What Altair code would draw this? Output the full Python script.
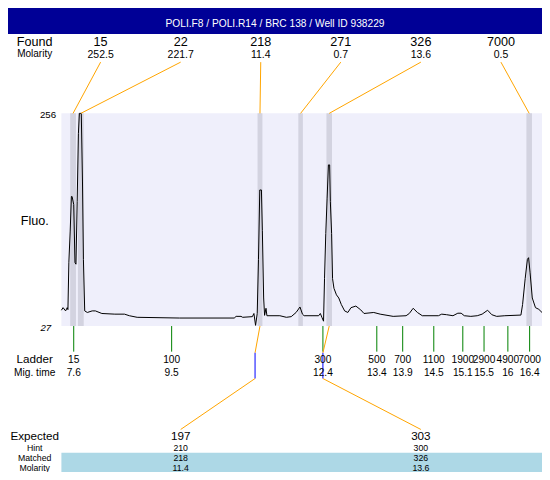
import altair as alt
import pandas as pd

# ---------------- data ----------------
title_text = "POLI.F8 / POLI.R14 / BRC 138 / Well ID 938229"

found_sizes = ["15", "22", "218", "271", "326", "7000"]
found_molarity = ["252.5", "221.7", "11.4", "0.7", "13.6", "0.5"]
peak_start = [7.531, 7.681, 11.148, 11.935, 12.478, 16.338]
peak_end = [7.643, 7.793, 11.242, 12.023, 12.585, 16.445]

ladder_sizes = ["15", "100", "300", "500", "700", "1100", "1900", "2900", "4900", "7000"]
ladder_times = [7.60, 9.49, 12.41, 13.45, 13.95, 14.55, 15.11, 15.52, 15.98, 16.40]
ladder_time_labels = ["7.6", "9.5", "12.4", "13.4", "13.9", "14.5", "15.1", "15.5", "16", "16.4"]

expected_sizes = ["197", "303"]
hint_sizes = ["210", "300"]
matched_sizes = ["218", "326"]
matched_molarity = ["11.4", "13.6"]
hint_times = [11.10, 12.41]
matched_peak_index = [2, 4]

y_min, y_max = 27, 256

trace_time = [
    7.362, 7.394, 7.443, 7.474, 7.488, 7.506, 7.531, 7.555, 7.568, 7.600,
    7.624, 7.643, 7.667, 7.690, 7.709, 7.746, 7.769, 7.787, 7.812, 7.862,
    7.956, 8.018, 8.143, 8.393, 8.580, 8.674, 8.824, 9.643, 10.698, 10.735,
    10.829, 10.861, 11.048, 11.078, 11.110, 11.142, 11.166, 11.191, 11.223, 11.241,
    11.266, 11.284, 11.311, 11.329, 11.579, 11.704, 11.798, 11.892, 11.967, 12.015,
    12.047, 12.328, 12.360, 12.390, 12.422, 12.441, 12.465, 12.491, 12.516, 12.540,
    12.553, 12.578, 12.596, 12.623, 12.671, 12.716, 12.765, 12.829, 12.891, 12.952,
    13.046, 13.140, 13.203, 13.391, 13.515, 13.766, 14.015, 14.077, 14.152, 14.234,
    14.328, 14.639, 14.703, 14.797, 14.920, 15.014, 15.078, 15.139, 15.265, 15.389,
    15.483, 15.589, 15.670, 15.764, 15.921, 16.232, 16.264, 16.314, 16.357, 16.380,
    16.408, 16.451, 16.513, 16.577, 16.639,
]
trace_fluo = [
    44.0, 46.8, 43.3, 46.8, 44.7, 95.7, 128.3, 166.5, 166.5, 157.8,
    95.4, 93.6, 161.3, 234.2, 256.0, 256.0, 182.1, 98.8, 43.3, 41.6,
    43.3, 43.3, 40.5, 39.8, 39.8, 38.1, 36.4, 35.6, 35.6, 37.4,
    37.4, 36.4, 37.1, 40.5, 27.7, 40.5, 98.8, 173.5, 173.5, 130.1,
    57.2, 38.5, 46.1, 38.1, 38.1, 36.4, 37.1, 41.6, 47.5, 39.8,
    38.1, 38.1, 40.5, 36.4, 32.2, 78.0, 126.6, 164.7, 200.5, 200.5,
    161.3, 126.6, 78.0, 67.6, 60.6, 57.2, 50.2, 43.3, 41.6, 46.8,
    48.5, 44.4, 40.5, 41.6, 39.8, 37.4, 38.1, 40.5, 46.1, 41.6,
    38.1, 38.1, 39.8, 39.2, 38.1, 40.8, 40.8, 38.1, 37.4, 38.1,
    39.8, 44.0, 39.2, 37.4, 38.1, 38.8, 50.2, 78.0, 98.8, 100.6,
    85.0, 57.2, 46.8, 45.0, 41.6,
]

# ---------------- layout ----------------
W, H = 534, 464            # whole chart (fits the 550x480 window with 8px margins)
REF_W, REF_H = 550, 480    # layout units
T0, T1 = 6.3312, 16.6388   # time domain across the full width
F0, F1 = -130.18, 369.46   # fluorescence domain across the full height
FS = W / REF_W


def tx(rx):
    return T0 + rx / REF_W * (T1 - T0)


def fy(ry):
    return F1 - ry / REF_H * (F1 - F0)


col_x = [95.4 + i * 82.46 for i in range(6)]
expected_cols = [1, 4]
LEFT_X = 27.5
ROW_FS = 9.0

NAVY = "#000096"
PLOT_BG = "#EFEFFB"
BAND = "#D3D3E0"
LIGHTBLUE = "#ADD8E6"
ORANGE = "#FFA500"
GREEN = "#008000"
BLUE = "#0000FF"

xs = alt.Scale(domain=[T0, T1], nice=False, zero=False)
ys = alt.Scale(domain=[F0, F1], nice=False, zero=False)

# ---------------- tables ----------------
rects = [
    dict(x=tx(0), x2=tx(550), y=fy(0), y2=fy(27), c=NAVY),
    dict(x=tx(55), x2=tx(550), y=y_min, y2=y_max, c=PLOT_BG),
    dict(x=tx(55), x2=tx(550), y=fy(460), y2=fy(480), c=LIGHTBLUE),
]
for s, e in zip(peak_start, peak_end):
    rects.append(dict(x=s, x2=e, y=y_min, y2=y_max, c=BAND))
rect_df = pd.DataFrame(rects)

trace_df = pd.DataFrame({"t": trace_time, "f": trace_fluo})

peak_center = [(s + e) / 2 for s, e in zip(peak_start, peak_end)]
lines = []
for i, pc in enumerate(peak_center):
    lines.append(dict(x=tx(col_x[i]), x2=pc, y=fy(56), y2=y_max, c=ORANGE))
for lt in ladder_times:
    lines.append(dict(x=lt, x2=lt, y=y_min, y2=fy(355.5), c=GREEN))
for k, ht in enumerate(hint_times):
    pc = peak_center[matched_peak_index[k]]
    lines.append(dict(x=pc, x2=ht, y=y_min, y2=fy(356.7), c=ORANGE))
    lines.append(dict(x=ht, x2=ht, y=fy(356.7), y2=fy(383.3), c=BLUE))
    lines.append(dict(x=ht, x2=tx(col_x[expected_cols[k]]), y=fy(383.3), y2=fy(436.0), c=ORANGE))
line_df = pd.DataFrame(lines)

texts = [dict(x=tx(275), y=fy(19.3), text=title_text, fs=10.5, c="white")]
texts += [
    dict(x=tx(LEFT_X), y=fy(39.5), text="Found", fs=13, c="black"),
    dict(x=tx(LEFT_X), y=fy(50.8), text="Molarity", fs=10.3, c="black"),
    dict(x=tx(LEFT_X), y=fy(224), text="Fluo.", fs=13, c="black"),
    dict(x=tx(LEFT_X), y=fy(367.5), text="Ladder", fs=12, c="black"),
    dict(x=tx(LEFT_X), y=fy(380.3), text="Mig. time", fs=10.5, c="black"),
    dict(x=tx(LEFT_X), y=fy(446.8), text="Expected", fs=12, c="black"),
    dict(x=tx(LEFT_X), y=fy(458.6), text="Hint", fs=ROW_FS, c="black"),
    dict(x=tx(LEFT_X), y=fy(468.8), text="Matched", fs=ROW_FS, c="black"),
    dict(x=tx(LEFT_X), y=fy(478.8), text="Molarity", fs=ROW_FS, c="black"),
]
for i in range(6):
    texts.append(dict(x=tx(col_x[i]), y=fy(39.5), text=found_sizes[i], fs=13, c="black"))
    texts.append(dict(x=tx(col_x[i]), y=fy(51.5), text=found_molarity[i], fs=10.8, c="black"))
for lt, ls, ll in zip(ladder_times, ladder_sizes, ladder_time_labels):
    texts.append(dict(x=lt, y=fy(367.2), text=ls, fs=10.5, c="black"))
    texts.append(dict(x=lt, y=fy(380.6), text=ll, fs=10.5, c="black"))
for k in range(2):
    cx = tx(col_x[expected_cols[k]])
    texts.append(dict(x=cx, y=fy(446.8), text=expected_sizes[k], fs=12, c="black"))
    texts.append(dict(x=cx, y=fy(458.6), text=hint_sizes[k], fs=ROW_FS, c="black"))
    texts.append(dict(x=cx, y=fy(468.8), text=matched_sizes[k], fs=ROW_FS, c="black"))
    texts.append(dict(x=cx, y=fy(478.8), text=matched_molarity[k], fs=ROW_FS, c="black"))
text_df = pd.DataFrame(texts)
text_df["fs"] = text_df["fs"] * FS

tick_df = pd.DataFrame([
    dict(x=tx(49.5), y=fy(113.6), text=str(y_max), fs=10 * FS),
])
tick27_df = pd.DataFrame([
    dict(x=tx(44.5), y=fy(334.3), text=str(y_min), fs=10 * FS),
])

FONT = "Liberation Sans"

rect_layer = alt.Chart(rect_df).mark_rect().encode(
    x=alt.X("x:Q", scale=xs, axis=None),
    x2="x2:Q",
    y=alt.Y("y:Q", scale=ys, axis=None),
    y2="y2:Q",
    color=alt.Color("c:N", scale=None),
)

trace_layer = alt.Chart(trace_df).mark_line(color="black", strokeWidth=1).encode(
    x=alt.X("t:Q", scale=xs, axis=None),
    y=alt.Y("f:Q", scale=ys, axis=None),
    order="t:Q",
)

line_layer = alt.Chart(line_df).mark_rule(strokeWidth=1).encode(
    x=alt.X("x:Q", scale=xs, axis=None),
    x2="x2:Q",
    y=alt.Y("y:Q", scale=ys, axis=None),
    y2="y2:Q",
    color=alt.Color("c:N", scale=None),
)

text_layer = alt.Chart(text_df).mark_text(
    align="center", baseline="alphabetic", font=FONT
).encode(
    x=alt.X("x:Q", scale=xs, axis=None),
    y=alt.Y("y:Q", scale=ys, axis=None),
    text="text:N",
    size=alt.Size("fs:Q", scale=None, legend=None),
    color=alt.Color("c:N", scale=None),
)

tick_layer = alt.Chart(tick_df).mark_text(
    align="right", baseline="alphabetic", font=FONT, color="black"
).encode(
    x=alt.X("x:Q", scale=xs, axis=None),
    y=alt.Y("y:Q", scale=ys, axis=None),
    text="text:N",
    size=alt.Size("fs:Q", scale=None, legend=None),
)

tick27_layer = alt.Chart(tick27_df).mark_text(
    align="right", baseline="alphabetic", font=FONT, color="black", fontStyle="italic"
).encode(
    x=alt.X("x:Q", scale=xs, axis=None),
    y=alt.Y("y:Q", scale=ys, axis=None),
    text="text:N",
    size=alt.Size("fs:Q", scale=None, legend=None),
)

chart = alt.layer(
    rect_layer, trace_layer, line_layer, text_layer, tick_layer, tick27_layer
).properties(
    width=W, height=H, padding=0, autosize=alt.AutoSizeParams(type="none"),
    background="white",
).configure_view(stroke=None)

chart.save("out.html", embed_options={"renderer": "svg", "actions": False})
